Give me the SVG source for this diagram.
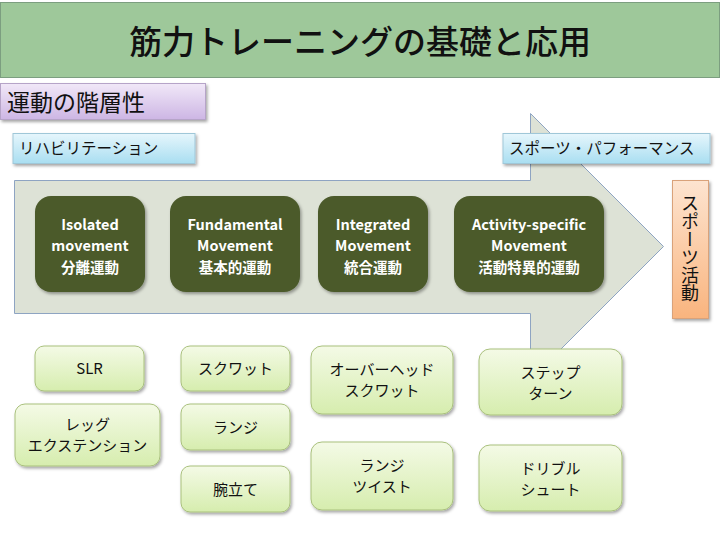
<svg xmlns="http://www.w3.org/2000/svg" width="720" height="540" viewBox="0 0 720 540">
<defs>
<linearGradient id="gPurple" x1="0" y1="0" x2="0" y2="1"><stop offset="0" stop-color="#f1e8f8"/><stop offset="1" stop-color="#cdb6e4"/></linearGradient>
<linearGradient id="gBlue" x1="0" y1="0" x2="0" y2="1"><stop offset="0" stop-color="#e6f6fc"/><stop offset="1" stop-color="#a9def1"/></linearGradient>
<linearGradient id="gOrange" x1="0" y1="0" x2="0" y2="1"><stop offset="0" stop-color="#fde4d0"/><stop offset="1" stop-color="#f9b47e"/></linearGradient>
<linearGradient id="gLight" x1="0" y1="0" x2="0" y2="1"><stop offset="0" stop-color="#f4fae6"/><stop offset="1" stop-color="#d6edae"/></linearGradient>
<filter id="sh" x="-10%" y="-10%" width="130%" height="140%"><feDropShadow dx="1.5" dy="2" stdDeviation="1.5" flood-color="#000" flood-opacity="0.35"/></filter>
</defs>
<style>
text{font-family:"Noto Sans CJK JP","Liberation Sans",sans-serif;fill:#111;}
.dk rect{fill:#4b5a2b;filter:url(#sh);}
.dk text{fill:#fff;font-weight:bold;font-size:14.5px;text-anchor:middle;}
.lt rect{fill:url(#gLight);stroke:#a9c07d;stroke-width:1;filter:url(#sh);}
.lt text{font-size:15px;text-anchor:middle;}
.lab{font-size:15.5px;}
</style>
<g id="title">
<rect x="0.5" y="2.5" width="719" height="75" fill="#9ec89a" stroke="#7c9e80" stroke-width="1"/>
<text x="360" y="54" font-size="33" text-anchor="middle" font-weight="500">筋力トレーニングの基礎と応用</text>
</g>
<g id="subtitle">
<rect x="0.5" y="83.5" width="205" height="36" fill="url(#gPurple)" stroke="#b6a4c8" filter="url(#sh)"/>
<text x="7" y="111" font-size="23">運動の階層性</text>
</g>
<g id="arrow">
<path d="M14.5,180.5 H530.5 V113.5 L663.5,246.5 L530.5,379.5 V313.5 H14.5 Z" fill="#dde2d6" stroke="#8ea4c2" stroke-width="1"/>
</g>
<g id="rehab">
<rect x="13" y="133.5" width="182" height="30" fill="url(#gBlue)" stroke="#9fc7d8" filter="url(#sh)"/>
<text class="lab" x="19" y="154">リハビリテーション</text>
</g>
<g id="sports-performance">
<rect x="503" y="133.5" width="207" height="30" fill="url(#gBlue)" stroke="#9fc7d8" filter="url(#sh)"/>
<text class="lab" x="509" y="154">スポーツ・パフォーマンス</text>
</g>
<g id="sports-activity">
<rect x="672.5" y="180.5" width="36" height="138" fill="url(#gOrange)" stroke="#d9a27a" filter="url(#sh)"/>
<text x="690" y="194" font-size="18" style="writing-mode:vertical-rl;" >スポーツ活動</text>
</g>
<g class="dk">
<g id="isolated"><rect x="35" y="196" width="110" height="96" rx="16"/>
<text x="90" y="230">Isolated</text><text x="90" y="251">movement</text><text x="90" y="273">分離運動</text></g>
<g id="fundamental"><rect x="170" y="196" width="130" height="96" rx="16"/>
<text x="235" y="230">Fundamental</text><text x="235" y="251">Movement</text><text x="235" y="273">基本的運動</text></g>
<g id="integrated"><rect x="318" y="196" width="110" height="96" rx="16"/>
<text x="373" y="230">Integrated</text><text x="373" y="251">Movement</text><text x="373" y="273">統合運動</text></g>
<g id="activity-specific"><rect x="454" y="196" width="150" height="96" rx="16"/>
<text x="529" y="230">Activity-specific</text><text x="529" y="251">Movement</text><text x="529" y="273">活動特異的運動</text></g>
</g>
<g class="lt">
<g id="slr"><rect x="35" y="346" width="109" height="45" rx="9"/><text x="89.5" y="374">SLR</text></g>
<g id="leg-ext"><rect x="15" y="404" width="145" height="62" rx="10"/><text x="87.5" y="430">レッグ</text><text x="87.5" y="451">エクステンション</text></g>
<g id="squat"><rect x="181" y="346" width="109" height="45" rx="9"/><text x="235.5" y="374">スクワット</text></g>
<g id="lunge"><rect x="181" y="404" width="109" height="46" rx="9"/><text x="235.5" y="433">ランジ</text></g>
<g id="pushup"><rect x="181" y="466" width="109" height="46" rx="9"/><text x="235.5" y="495">腕立て</text></g>
<g id="oh-squat"><rect x="311" y="346" width="142" height="68" rx="11"/><text x="382" y="375">オーバーヘッド</text><text x="382" y="396">スクワット</text></g>
<g id="lunge-twist"><rect x="311" y="442" width="142" height="68" rx="11"/><text x="382" y="471">ランジ</text><text x="382" y="492">ツイスト</text></g>
<g id="step-turn"><rect x="479" y="349" width="143" height="66" rx="11"/><text x="550.5" y="378">ステップ</text><text x="550.5" y="399">ターン</text></g>
<g id="dribble-shoot"><rect x="479" y="445" width="143" height="66" rx="11"/><text x="550.5" y="474">ドリブル</text><text x="550.5" y="495">シュート</text></g>
</g>
<g id="connectors"></g>
</svg>
